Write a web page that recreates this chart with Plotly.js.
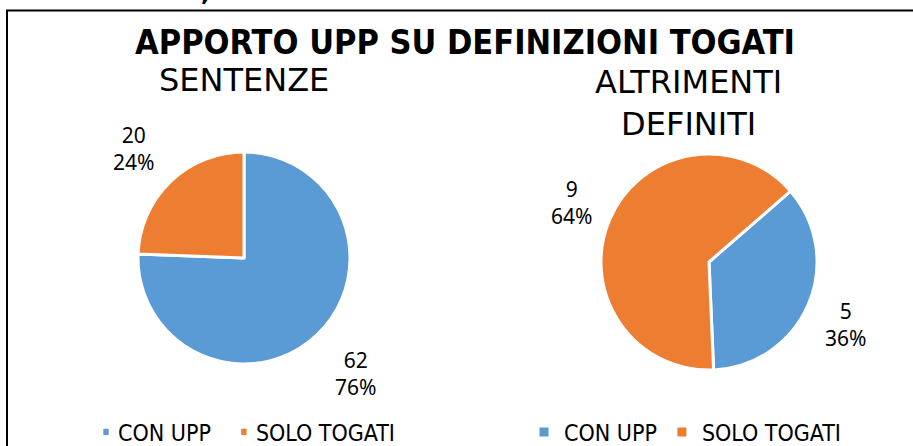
<!DOCTYPE html>
<html>
<head>
<meta charset="utf-8">
<script src="https://cdn.plot.ly/plotly-3.0.1.min.js"></script>
<style>
html, body { margin: 0; padding: 0; background: #fff; }
#chart { width: 913px; height: 446px; }
.legend .legendpoints path { transform: translate(28px, 0px) scale(0.6, 0.7); }
</style>
</head>
<body>
<div id="chart"></div>
<script>
// Data
const categories = ["CON UPP", "SOLO TOGATI"];
const sentenzeValues = [62, 20];
const altrimentiValues = [5, 9];
const colors = ["#5B9BD5", "#ED7D31"];

const chartTitle = "APPORTO UPP SU DEFINIZIONI TOGATI";
const topHeader = "FAMIGLIA, STATO E CAPACITA' DELLE PERSONE";
const subTitle1 = "SENTENZE";
const subTitle2 = "ALTRIMENTI<br>DEFINITI";

function labelText(values, i) {
  const total = values.reduce((a, b) => a + b, 0);
  return values[i] + "<br>" + Math.round(values[i] / total * 100) + "%";
}

const W = 913, H = 446;
const px = x => x / W;
const py = y => 1 - y / H;

const pieCommon = {
  type: "pie",
  labels: categories,
  sort: false,
  direction: "clockwise",
  textinfo: "none",
  hoverinfo: "label+value+percent",
  marker: { colors: colors, line: { color: "#ffffff", width: 3 } },
  automargin: false
};

const r1 = 106, r2 = 108;
const trace1 = Object.assign({}, pieCommon, {
  values: sentenzeValues,
  rotation: 0,
  domain: { x: [px(244 - r1), px(244 + r1)], y: [py(258 + r1), py(258 - r1)] },
  legend: "legend",
  legendgroup: "g1"
});

const trace2 = Object.assign({}, pieCommon, {
  values: altrimentiValues,
  rotation: 49,
  domain: { x: [px(709 - r2), px(709 + r2)], y: [py(262 + r2), py(262 - r2)] },
  legend: "legend2",
  legendgroup: "g2"
});

const labelFont = { family: "Noto Sans, Open Sans, sans-serif", size: 21, color: "#000" };
const condFont = "DejaVu Sans Condensed, DejaVu Sans, sans-serif";
const wideFont = "DejaVu Sans, Verdana, sans-serif";

const annotations = [
  { text: labelText(sentenzeValues, 1), x: px(133), y: py(148), xref: "paper", yref: "paper", showarrow: false, font: labelFont, xanchor: "center", yanchor: "middle" },
  { text: labelText(sentenzeValues, 0), x: px(355), y: py(373), xref: "paper", yref: "paper", showarrow: false, font: labelFont, xanchor: "center", yanchor: "middle" },
  { text: labelText(altrimentiValues, 1), x: px(571), y: py(202), xref: "paper", yref: "paper", showarrow: false, font: labelFont, xanchor: "center", yanchor: "middle" },
  { text: labelText(altrimentiValues, 0), x: px(845), y: py(324), xref: "paper", yref: "paper", showarrow: false, font: labelFont, xanchor: "center", yanchor: "middle" },
  { text: subTitle1, x: px(244), y: py(80), xref: "paper", yref: "paper", showarrow: false, font: { family: wideFont, size: 32, color: "#000" }, xanchor: "center", yanchor: "middle" },
  { text: subTitle2, x: px(688), y: py(103), xref: "paper", yref: "paper", showarrow: false, font: { family: wideFont, size: 32, color: "#000" }, xanchor: "center", yanchor: "middle" },
  { text: "<b>" + topHeader + "</b>", x: px(402), y: py(9.5), xref: "paper", yref: "paper", showarrow: false, font: { family: condFont, size: 29, color: "#000" }, xanchor: "center", yanchor: "bottom" }
];

const legendCommon = {
  orientation: "h", xanchor: "left", y: py(432), yanchor: "middle",
  traceorder: "normal",
  font: { family: condFont, size: 23, color: "#000" }, bgcolor: "rgba(0,0,0,0)"
};

const layout = {
  width: W, height: H,
  margin: { l: 0, r: 0, t: 0, b: 0, autoexpand: false },
  paper_bgcolor: "#ffffff",
  title: {
    text: "<b>" + chartTitle + "</b>",
    font: { family: condFont, size: 34, color: "#000" },
    x: px(465), xanchor: "center",
    y: 1 - 42 / H, yanchor: "middle", yref: "container"
  },
  showlegend: true,
  legend: Object.assign({}, legendCommon, { x: px(78) }),
  legend2: Object.assign({}, legendCommon, { x: px(524) }),
  shapes: [
    { type: "rect", xref: "paper", yref: "paper", x0: px(7), x1: 1.2, y0: -0.2, y1: py(10.5), line: { color: "#000", width: 2 }, fillcolor: "rgba(0,0,0,0)" }
  ],
  annotations: annotations
};

Plotly.newPlot("chart", [trace1, trace2], layout, { displayModeBar: false, staticPlot: true });
</script>
</body>
</html>
